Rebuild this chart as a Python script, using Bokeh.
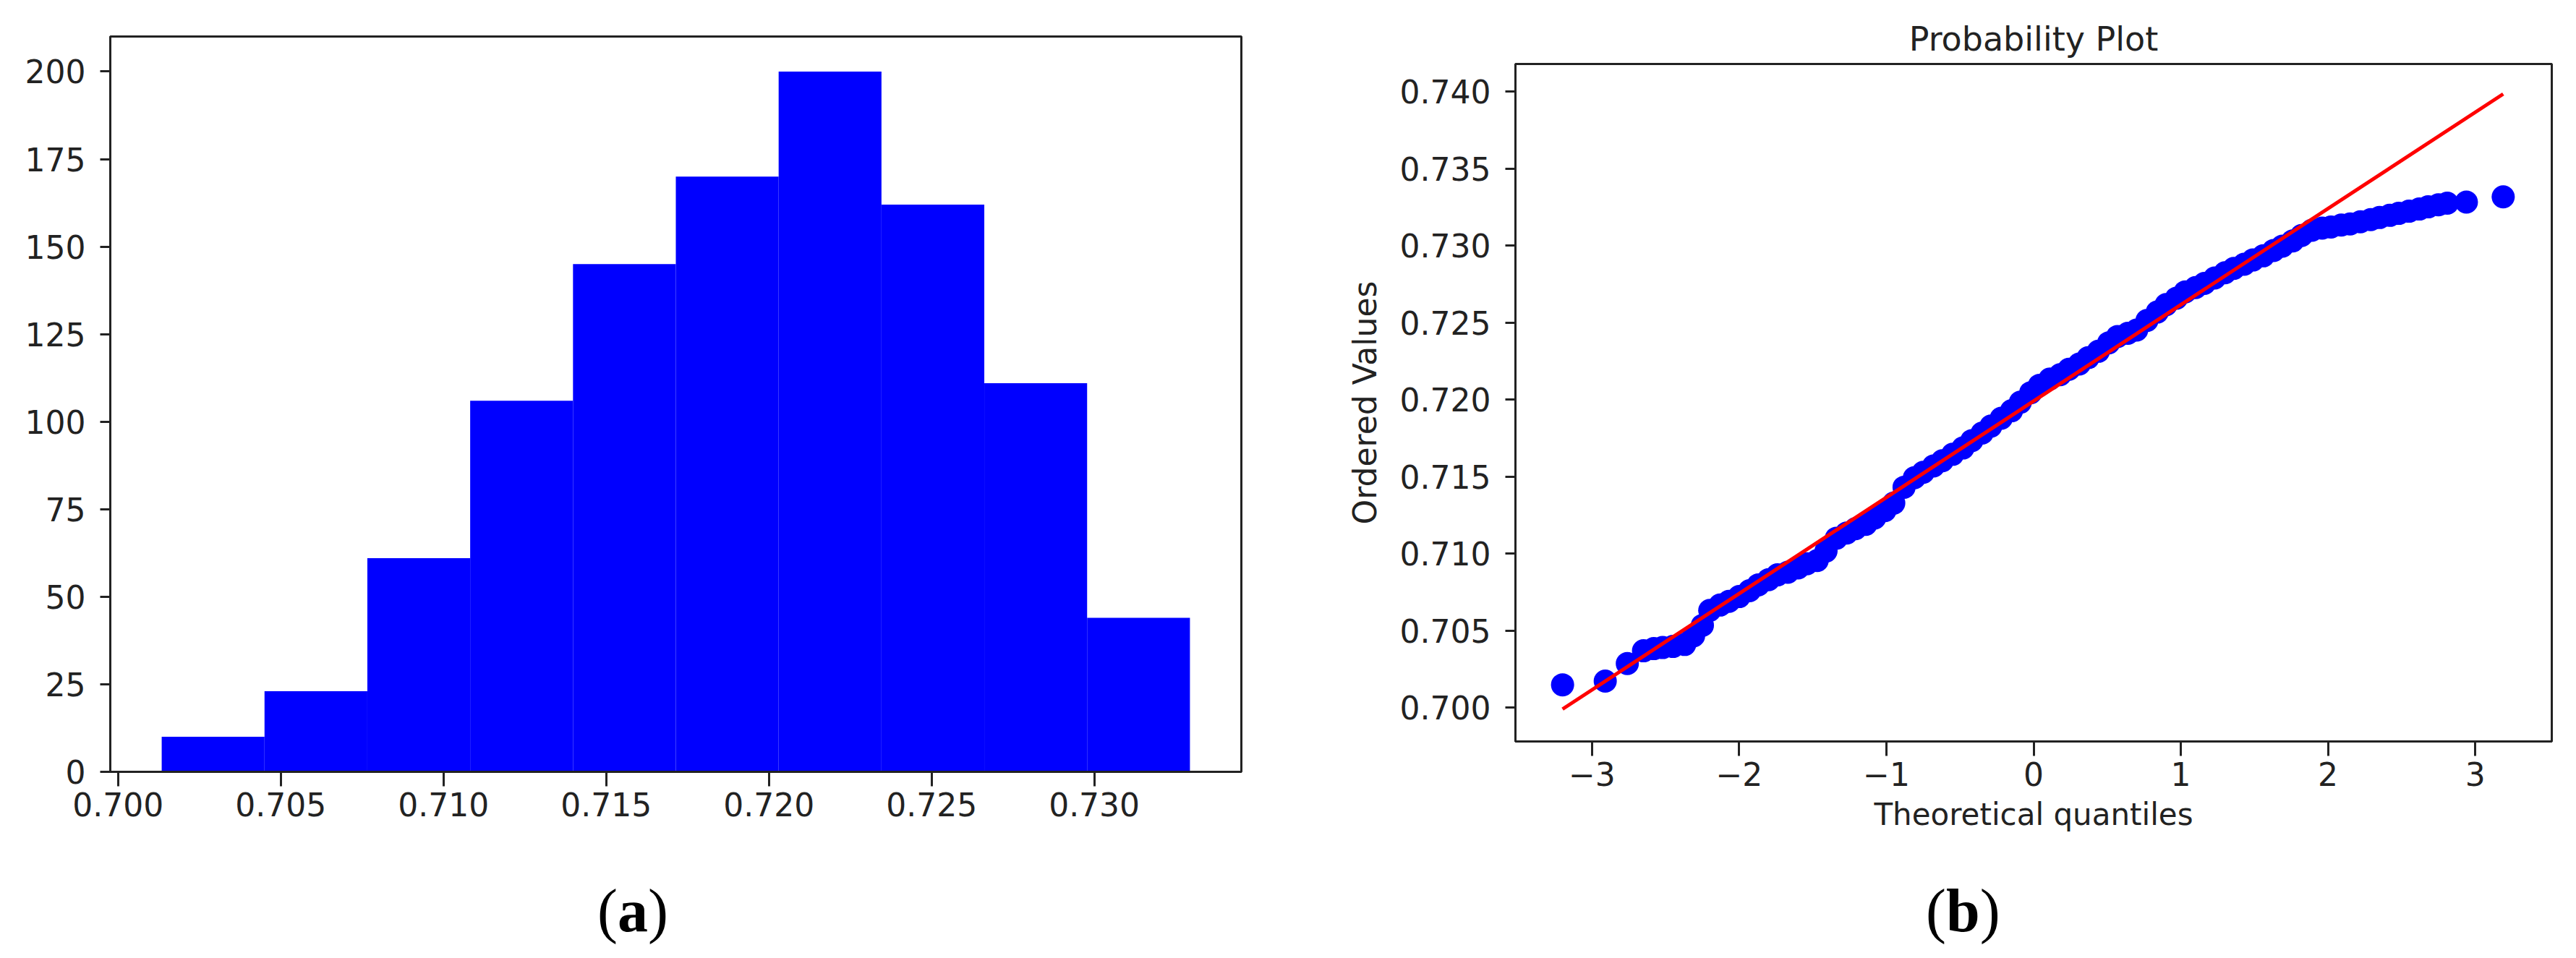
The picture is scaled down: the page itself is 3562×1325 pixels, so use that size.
from bokeh.plotting import figure
from bokeh.layouts import row, column
from bokeh.models import Range1d, FixedTicker, NumeralTickFormatter, Div
from bokeh.embed import file_html
from bokeh.resources import INLINE

# ---------------- data ----------------
hist_edges = [0.70134, 0.70450, 0.70766, 0.71082, 0.71398, 0.71714,
              0.72030, 0.72346, 0.72662, 0.72978, 0.73294]
hist_counts = [10, 23, 61, 106, 145, 170, 200, 162, 111, 44]
hist_xticks = [0.700, 0.705, 0.710, 0.715, 0.720, 0.725, 0.730]
hist_yticks = [0, 25, 50, 75, 100, 125, 150, 175, 200]

qq_theoretical = [-3.20, -2.91, -2.76, -2.65, -2.58, -2.52, -2.45, -2.37, -2.31, -2.25,
                  -2.20, -2.13, -2.07, -2.00, -1.93, -1.87, -1.80, -1.74, -1.67, -1.60,
                  -1.54, -1.47, -1.41, -1.34, -1.27, -1.21, -1.14, -1.08, -1.01, -0.95,
                  -0.88, -0.81, -0.75, -0.68, -0.62, -0.55, -0.48, -0.42, -0.35, -0.29,
                  -0.22, -0.15, -0.09, -0.02, 0.04, 0.11, 0.18, 0.24, 0.31, 0.37,
                  0.44, 0.51, 0.57, 0.64, 0.70, 0.77, 0.84, 0.90, 0.97, 1.03,
                  1.10, 1.16, 1.23, 1.30, 1.36, 1.43, 1.49, 1.56, 1.63, 1.69,
                  1.76, 1.82, 1.89, 1.96, 2.02, 2.09, 2.15, 2.22, 2.29, 2.35,
                  2.42, 2.48, 2.55, 2.62, 2.68, 2.75, 2.81, 2.94, 3.19]
qq_ordered = [0.70148, 0.70172, 0.70286, 0.70369, 0.70383, 0.70390, 0.70397, 0.70410, 0.70466, 0.70534,
              0.70631, 0.70666, 0.70690, 0.70721, 0.70759, 0.70797, 0.70831, 0.70862, 0.70879, 0.70907,
              0.70934, 0.70955, 0.71017, 0.71100, 0.71134, 0.71162, 0.71190, 0.71231, 0.71279, 0.71328,
              0.71431, 0.71493, 0.71528, 0.71569, 0.71603, 0.71645, 0.71686, 0.71734, 0.71783, 0.71828,
              0.71879, 0.71928, 0.71983, 0.72045, 0.72093, 0.72134, 0.72162, 0.72197, 0.72231, 0.72272,
              0.72314, 0.72369, 0.72410, 0.72431, 0.72452, 0.72514, 0.72569, 0.72617, 0.72659, 0.72700,
              0.72728, 0.72755, 0.72790, 0.72824, 0.72852, 0.72879, 0.72907, 0.72934, 0.72969, 0.72997,
              0.73031, 0.73066, 0.73100, 0.73114, 0.73121, 0.73134, 0.73141, 0.73155, 0.73169, 0.73183,
              0.73197, 0.73210, 0.73224, 0.73238, 0.73252, 0.73266, 0.73276, 0.73283, 0.73317]
fit_x = [-3.20, 3.19]
fit_y = [0.69990, 0.73985]
qq_xticks = [-3, -2, -1, 0, 1, 2, 3]
qq_yticks = [0.700, 0.705, 0.710, 0.715, 0.720, 0.725, 0.730, 0.735, 0.740]

FONT = "DejaVu Sans"
TICK_FS = "44px"
AX = "#222222"
BLUE = "#0000ff"
RED = "#ff0000"


def style_axes(p):
    p.outline_line_color = AX
    p.outline_line_width = 3
    p.xgrid.visible = False
    p.ygrid.visible = False
    for ax in (p.xaxis[0], p.yaxis[0]):
        ax.axis_line_color = AX
        ax.axis_line_width = 3
        ax.major_tick_line_color = AX
        ax.major_tick_line_width = 3
        ax.major_tick_in = 0
        ax.minor_tick_line_color = None
        ax.major_label_text_font = FONT
        ax.major_label_text_font_size = TICK_FS
        ax.major_label_text_color = "#222222"
        ax.axis_label_text_font = FONT
        ax.axis_label_text_font_style = "normal"
        ax.axis_label_text_color = "#222222"
    p.xaxis[0].major_tick_out = 20
    p.yaxis[0].major_tick_out = 14
    p.xaxis[0].major_label_standoff = 8
    p.yaxis[0].major_label_standoff = 20


def caption(letter, width, pad_left):
    html = ("<div style=\"padding-top:42px;padding-left:" + str(pad_left) + "px;"
            "font-family:'Liberation Serif';font-size:84px;line-height:100px;"
            "color:#000;white-space:nowrap;\">"
            "(<b>" + letter + "</b>)</div>")
    return Div(text=html, width=width, height=142, margin=(0, 0, 0, 0))


# ---------------- (a) histogram ----------------
pa = figure(width=1858, height=1168, output_backend="svg", toolbar_location=None,
            x_range=Range1d(0.69976, 0.73452), y_range=Range1d(0, 210),
            min_border_left=152, min_border_right=142, min_border_top=50, min_border_bottom=101)
pa.quad(left=hist_edges[:-1], right=hist_edges[1:], bottom=0, top=hist_counts,
        fill_color=BLUE, line_color=None)
style_axes(pa)
pa.xaxis[0].ticker = FixedTicker(ticks=hist_xticks)
pa.xaxis[0].formatter = NumeralTickFormatter(format="0.000")
pa.yaxis[0].ticker = FixedTicker(ticks=hist_yticks)

# ---------------- (b) probability plot ----------------
pb = figure(width=1688, height=1168, output_backend="svg", toolbar_location=None,
            x_range=Range1d(-3.52, 3.52), y_range=Range1d(0.6978, 0.7418),
            min_border_left=237, min_border_right=18, min_border_top=88, min_border_bottom=143,
            title="Probability Plot")
pb.title.text_font = FONT
pb.title.text_font_size = "46px"
pb.title.text_font_style = "normal"
pb.title.text_color = "#222222"
pb.title.align = "center"
pb.title.standoff = 16
pb.scatter(qq_theoretical, qq_ordered, size=32, fill_color=BLUE, line_color=None)
pb.line(fit_x, fit_y, line_color=RED, line_width=5)
style_axes(pb)
pb.xaxis[0].ticker = FixedTicker(ticks=qq_xticks)
pb.xaxis[0].major_label_overrides = {-3: "\u22123", -2: "\u22122", -1: "\u22121"}
pb.yaxis[0].ticker = FixedTicker(ticks=qq_yticks)
pb.yaxis[0].formatter = NumeralTickFormatter(format="0.000")
pb.xaxis[0].axis_label = "Theoretical quantiles"
pb.yaxis[0].axis_label = "Ordered Values"
pb.xaxis[0].axis_label_text_font_size = "42px"
pb.yaxis[0].axis_label_text_font_size = "44px"
pb.xaxis[0].axis_label_standoff = 12
pb.yaxis[0].axis_label_standoff = 20

layout = row(column(pa, caption("a", 1858, 826)), column(pb, caption("b", 1688, 805)))
open("out.html", "w").write(file_html(layout, INLINE))
